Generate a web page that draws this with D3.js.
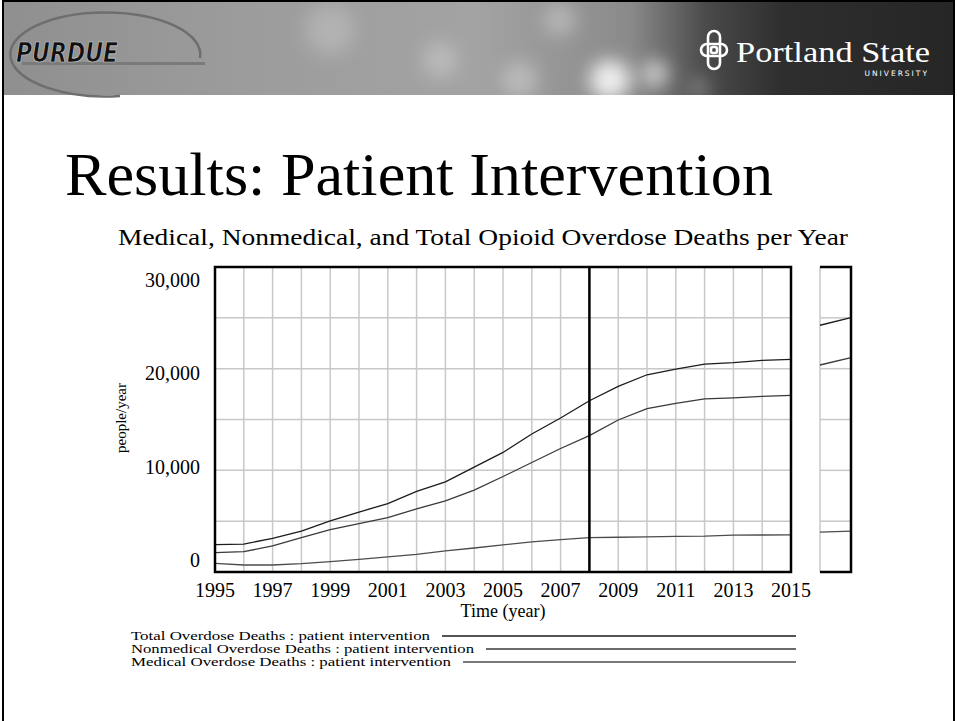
<!DOCTYPE html>
<html>
<head>
<meta charset="utf-8">
<script src="https://cdn.jsdelivr.net/npm/d3@7"></script>
<style>
  body { margin: 0; background: #fff; }
  svg { display: block; }
</style>
</head>
<body>
<div class="chart"></div>
<script>
// data (people/year)
var years = d3.range(1995, 2016);
var totalDeaths = [2690, 2750, 3310, 4030, 5020, 5900, 6720, 7920, 8870, 10320, 11760,
                   13570, 15150, 16840, 18250, 19400, 19960, 20450, 20590, 20810, 20910];
var nonmedicalDeaths = [1900, 2000, 2560, 3370, 4160, 4750, 5340, 6210, 7000, 8050, 9390,
                        10770, 12150, 13420, 14950, 16060, 16580, 17020, 17120, 17270, 17370];
var medicalDeaths = [850, 690, 690, 820, 1020, 1250, 1480, 1730, 2070, 2360, 2660,
                     2960, 3180, 3380, 3420, 3460, 3500, 3520, 3620, 3640, 3650];

// the cut-off second graph on the right edge of the slide
var sideYears = [2014, 2015];
var sideTotal = [24270, 25010];
var sideNonmedical = [20360, 21080];
var sideMedical = [3930, 4030];

var yTicks = [0, 10000, 20000, 30000];
var xTicks = d3.range(1995, 2016, 2);
var seriesNames = ["Total Overdose Deaths : patient intervention",
                   "Nonmedical Overdose Deaths : patient intervention",
                   "Medical Overdose Deaths : patient intervention"];

var svgWidth = 957;
var svgHeight = 721;

var plot = { left: 215, right: 791, top: 267, bottom: 572 };

var svg = d3.select(".chart")
  .append("svg")
  .attr("width", svgWidth)
  .attr("height", svgHeight);

var defs = svg.append("defs");

// ---- header banner ----
var grad = defs.append("linearGradient").attr("id", "banner");
[[0, "#8f8f8f"], [0.25, "#9c9c9c"], [0.5, "#a3a3a3"], [0.66, "#8a8a8a"],
 [0.74, "#4a4a4a"], [0.82, "#2e2e2e"], [1, "#262626"]].forEach(function(s) {
  grad.append("stop").attr("offset", s[0]).attr("stop-color", s[1]);
});
defs.append("filter").attr("id", "blur")
  .attr("x", "-50%").attr("y", "-50%").attr("width", "200%").attr("height", "200%")
  .append("feGaussianBlur").attr("stdDeviation", 9);
defs.append("clipPath").attr("id", "bannerClip")
  .append("rect").attr("x", 3).attr("y", 2).attr("width", 951).attr("height", 93);

svg.append("rect")
  .attr("x", 3).attr("y", 2).attr("width", 951).attr("height", 93)
  .attr("fill", "url(#banner)");

var bokeh = svg.append("g").attr("clip-path", "url(#bannerClip)")
  .append("g").attr("filter", "url(#blur)");
[[610, 80, 20, 0.85], [655, 74, 14, 0.6], [520, 80, 18, 0.3], [440, 60, 18, 0.25],
 [560, 20, 16, 0.3], [330, 30, 25, 0.2], [700, 88, 10, 0.3]].forEach(function(b) {
  bokeh.append("circle").attr("cx", b[0]).attr("cy", b[1]).attr("r", b[2])
    .attr("fill", "#fff").attr("opacity", b[3]);
});

// Purdue logo
svg.append("path")
  .attr("d", "M200,58 A95,42 0 1,0 120,96")
  .attr("fill", "none").attr("stroke", "#6e6e6e").attr("stroke-width", 2.5);
svg.append("rect")
  .attr("x", 22).attr("y", 62).attr("width", 183).attr("height", 3)
  .attr("fill", "#7a7a7a");
svg.append("text")
  .attr("x", 16).attr("y", 62)
  .attr("font-family", "DejaVu Sans")
  .attr("font-weight", "bold")
  .attr("font-style", "italic")
  .attr("font-size", 26)
  .attr("fill", "#111")
  .attr("stroke", "#cfcfcf").attr("stroke-width", 0.7)
  .attr("textLength", 102).attr("lengthAdjust", "spacingAndGlyphs")
  .text("PURDUE");

// Portland State logo
var knot = svg.append("g").attr("transform", "translate(714,50)")
  .attr("fill", "none").attr("stroke", "#fff").attr("stroke-width", 2.6);
knot.append("rect").attr("x", -13).attr("y", -6).attr("width", 26).attr("height", 12).attr("rx", 6);
knot.append("rect").attr("x", -6).attr("y", -19).attr("width", 12).attr("height", 38).attr("rx", 6);
knot.append("rect").attr("x", -3).attr("y", -3).attr("width", 6).attr("height", 6).attr("rx", 2);
svg.append("text")
  .attr("x", 736).attr("y", 62)
  .attr("font-family", "Liberation Serif")
  .attr("font-size", 30)
  .attr("fill", "#fff")
  .attr("textLength", 194).attr("lengthAdjust", "spacingAndGlyphs")
  .text("Portland State");
svg.append("text")
  .attr("x", 929).attr("y", 76)
  .attr("text-anchor", "end")
  .attr("font-family", "DejaVu Sans")
  .attr("font-size", 7.5)
  .attr("letter-spacing", 2)
  .attr("fill", "#fff")
  .text("UNIVERSITY");

// slide frame
svg.append("rect")
  .attr("x", 3).attr("y", 1).attr("width", 951).attr("height", 740)
  .attr("fill", "none").attr("stroke", "#000").attr("stroke-width", 2);

// ---- slide title ----
svg.append("text")
  .attr("x", 65).attr("y", 195)
  .attr("font-family", "Liberation Serif")
  .attr("font-size", 62)
  .attr("fill", "#000")
  .attr("textLength", 708).attr("lengthAdjust", "spacingAndGlyphs")
  .text("Results: Patient Intervention");

svg.append("text")
  .attr("x", 118).attr("y", 245)
  .attr("font-family", "Liberation Serif")
  .attr("font-size", 23)
  .attr("fill", "#000")
  .attr("textLength", 730).attr("lengthAdjust", "spacingAndGlyphs")
  .text("Medical, Nonmedical, and Total Opioid Overdose Deaths per Year");

// ---- scales ----
var xScale = d3.scaleLinear().domain([1995, 2015]).range([plot.left, plot.right]);
var yScale = d3.scaleLinear().domain([0, 30000]).range([plot.bottom, plot.top]);
// Vensim keeps end labels inside the frame
var yLabelScale = d3.scaleLinear().domain([0, 30000]).range([560, 280]);

var chartGroup = svg.append("g");

// grid
chartGroup.append("g")
  .selectAll("line")
  .data(d3.range(1996, 2015))
  .enter()
  .append("line")
  .attr("x1", d => xScale(d)).attr("x2", d => xScale(d))
  .attr("y1", plot.top).attr("y2", plot.bottom)
  .attr("stroke", "#c8c8c8").attr("stroke-width", 1.5);

chartGroup.append("g")
  .selectAll("line")
  .data(d3.range(5000, 30000, 5000))
  .enter()
  .append("line")
  .attr("x1", plot.left).attr("x2", plot.right)
  .attr("y1", d => yScale(d)).attr("y2", d => yScale(d))
  .attr("stroke", "#c8c8c8").attr("stroke-width", 1.5);

// series lines
var line = d3.line()
  .x((d, i) => xScale(years[i]))
  .y(d => yScale(d));

var seriesData = [totalDeaths, nonmedicalDeaths, medicalDeaths];
var seriesColors = ["#1c1c1c", "#3a3a3a", "#4c4c4c"];

chartGroup.selectAll(".series")
  .data(seriesData)
  .enter()
  .append("path")
  .attr("class", "series")
  .attr("d", line)
  .attr("fill", "none")
  .attr("stroke", (d, i) => seriesColors[i])
  .attr("stroke-width", 1.3);

// marker line at 2008
chartGroup.append("line")
  .attr("x1", xScale(2008)).attr("x2", xScale(2008))
  .attr("y1", plot.top).attr("y2", plot.bottom)
  .attr("stroke", "#000").attr("stroke-width", 2.5);

// frame
chartGroup.append("rect")
  .attr("x", plot.left).attr("y", plot.top)
  .attr("width", plot.right - plot.left).attr("height", plot.bottom - plot.top)
  .attr("fill", "none").attr("stroke", "#000").attr("stroke-width", 2.5);

// y labels
chartGroup.append("g")
  .selectAll("text")
  .data(yTicks)
  .enter()
  .append("text")
  .attr("x", 200)
  .attr("y", d => yLabelScale(d))
  .attr("dy", "0.35em")
  .attr("text-anchor", "end")
  .attr("font-family", "Liberation Serif")
  .attr("font-size", 20)
  .text(d3.format(","));

// x labels
chartGroup.append("g")
  .selectAll("text")
  .data(xTicks)
  .enter()
  .append("text")
  .attr("x", d => xScale(d))
  .attr("y", 597)
  .attr("text-anchor", "middle")
  .attr("font-family", "Liberation Serif")
  .attr("font-size", 20)
  .text(d => d);

// axis titles
svg.append("text")
  .attr("transform", "translate(126,418) rotate(-90)")
  .attr("text-anchor", "middle")
  .attr("font-family", "Liberation Serif")
  .attr("font-size", 15)
  .text("people/year");

svg.append("text")
  .attr("x", (plot.left + plot.right) / 2).attr("y", 617)
  .attr("text-anchor", "middle")
  .attr("font-family", "Liberation Serif")
  .attr("font-size", 18)
  .text("Time (year)");

// ---- legend ----
var legendWidths = [299, 343, 320];
var legend = svg.append("g");
seriesNames.forEach(function(name, i) {
  var yPos = 636 + i * 13;
  legend.append("text")
    .attr("x", 131).attr("y", yPos)
    .attr("dy", "0.33em")
    .attr("font-family", "Liberation Serif")
    .attr("font-size", 11.5)
    .attr("textLength", legendWidths[i]).attr("lengthAdjust", "spacingAndGlyphs")
    .text(name);
  legend.append("line")
    .attr("x1", 131 + legendWidths[i] + 12).attr("x2", 796)
    .attr("y1", yPos).attr("y2", yPos)
    .attr("stroke", seriesColors[i]).attr("stroke-width", 1.3);
});

// ---- second (cut-off) graph ----
var side = { left: 820, right: 851 };
var xSide = d3.scaleLinear().domain([2014, 2015]).range([side.left, side.right]);
var sideGroup = svg.append("g");

sideGroup.append("g")
  .selectAll("line")
  .data(d3.range(5000, 30000, 5000))
  .enter()
  .append("line")
  .attr("x1", side.left).attr("x2", side.right)
  .attr("y1", d => yScale(d)).attr("y2", d => yScale(d))
  .attr("stroke", "#c8c8c8").attr("stroke-width", 1.5);

sideGroup.append("line")
  .attr("x1", side.left).attr("x2", side.left)
  .attr("y1", plot.top).attr("y2", plot.bottom)
  .attr("stroke", "#c8c8c8").attr("stroke-width", 1.5);

var sideLine = d3.line()
  .x((d, i) => xSide(sideYears[i]))
  .y(d => yScale(d));

sideGroup.selectAll(".side-series")
  .data([sideTotal, sideNonmedical, sideMedical])
  .enter()
  .append("path")
  .attr("class", "side-series")
  .attr("d", sideLine)
  .attr("fill", "none")
  .attr("stroke", (d, i) => seriesColors[i])
  .attr("stroke-width", 1.3);

sideGroup.append("path")
  .attr("d", `M${side.left},${plot.top}H${side.right}V${plot.bottom}H${side.left}`)
  .attr("fill", "none").attr("stroke", "#000").attr("stroke-width", 2.5);
</script>
</body>
</html>
